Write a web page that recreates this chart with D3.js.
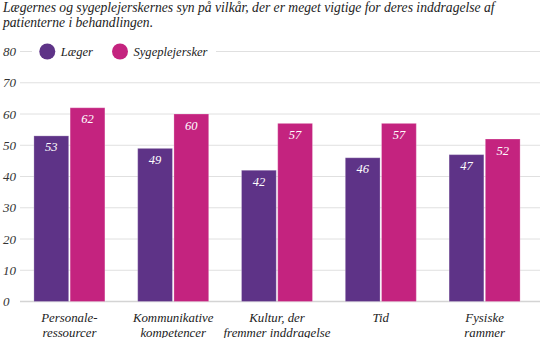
<!DOCTYPE html>
<html><head><meta charset="utf-8">
<script src="https://cdn.jsdelivr.net/npm/d3@7"></script>
<style>body{margin:0;background:#fff;}</style></head>
<body>
<svg id="c" width="540" height="338"></svg>
<script>
const titleLines = ["Lægernes og sygeplejerskernes syn på vilkår, der er meget vigtige for deres inddragelse af", "patienterne i behandlingen."];
const categories = [["Personale-","ressourcer"],["Kommunikative","kompetencer"],["Kultur, der","fremmer inddragelse"],["Tid"],["Fysiske","rammer"]];
const seriesNames = ["Læger","Sygeplejersker"];
const laeger = [53,49,42,46,47];
const sygeplejersker = [62,60,57,57,52];
const yTicks = [0,10,20,30,40,50,60,70,80];
const colors = ["#5e3387","#c4237f"];

const FONT = "'Liberation Serif', 'Times New Roman', serif";
const svg = d3.select("#c");

function fit(str, w){
  const t = svg.append("text").style("font-family",FONT,"important").style("font-style","italic","important").attr("font-size",100).text(str);
  const len = t.node().getComputedTextLength();
  t.remove();
  return 100*w/len;
}
const titleSize = fit(titleLines[0], 492);
const legendSize = fit("Sygeplejersker", 74);
const xlSize = fit("fremmer inddragelse", 107);
const tickSize = fit("80", 13);
const valSize = fit("62", 12.5);

const catKeys = categories.map(c => c.join(" "));
const data = catKeys.map((k,i)=>({key:k, lines:categories[i], values:[laeger[i], sygeplejersker[i]]}));

const y = d3.scaleLinear().domain([0,80]).range([301.5,51.5]);
const x0 = d3.scaleBand().domain(catKeys).range([17.5,536.5]).padding(0);
const bw = x0.bandwidth();
const x1 = d3.scaleBand().domain(seriesNames).range([bw*0.158, bw*0.842]).paddingInner(0.04);

// title
svg.append("g").selectAll("text").data(titleLines).join("text")
  .attr("x",3).attr("y",(d,i)=>11.5+i*15.5)
  .attr("font-size",titleSize).attr("fill","#222").text(d=>d);

// grid
const grid = svg.append("g");
grid.selectAll("line").data(yTicks).join("line")
  .attr("x1",20).attr("x2",540)
  .attr("y1",d=>y(d)).attr("y2",d=>y(d))
  .attr("stroke",d=>d===0?"#d4d4d4":"#e0e0e0").attr("stroke-width",d=>d===0?1.5:1);
grid.selectAll("text").data(yTicks).join("text")
  .attr("x",3).attr("y",d=>y(d)+4.5)
  .attr("font-size",tickSize).attr("fill","#333").text(d=>d);

// bars
const g = svg.append("g").selectAll("g").data(data).join("g")
  .attr("transform",d=>`translate(${x0(d.key)},0)`);
g.selectAll("rect").data(d=>d.values.map((v,i)=>({s:seriesNames[i],v,i}))).join("rect")
  .attr("x",d=>x1(d.s)).attr("width",x1.bandwidth())
  .attr("y",d=>y(d.v)).attr("height",d=>y(0)-y(d.v))
  .attr("fill",d=>colors[d.i]).attr("stroke","rgba(255,255,255,0.25)").attr("stroke-width",1);
g.selectAll("text.v").data(d=>d.values.map((v,i)=>({s:seriesNames[i],v,i}))).join("text")
  .attr("class","v")
  .attr("x",d=>x1(d.s)+x1.bandwidth()/2).attr("y",d=>y(d.v)+15.5)
  .attr("text-anchor","middle").attr("font-size",valSize).attr("fill","#fff").text(d=>d.v);

// x labels
const xl = svg.append("g").selectAll("text").data(data).join("text")
  .attr("x",d=>x0(d.key)+bw/2).attr("text-anchor","middle")
  .attr("font-size",xlSize).attr("fill","#222");
xl.selectAll("tspan").data(d=>d.lines).join("tspan")
  .attr("x",function(){return d3.select(this.parentNode).attr("x");})
  .attr("y",(d,i)=>322+i*14.5).text(d=>d);

// legend
const lg = svg.append("g");
lg.append("rect").attr("x",32).attr("y",y(80)-10).attr("width",184).attr("height",20).attr("fill","#fff");
const legX = [47.3,120];
seriesNames.forEach((s,i)=>{
  lg.append("circle").attr("cx",legX[i]).attr("cy",y(80)).attr("r",8).attr("fill",colors[i]);
  lg.append("text").attr("x",legX[i]+13.5).attr("y",y(80)+4.5).attr("font-size",legendSize).attr("fill","#222").text(s);
});

svg.selectAll("text, tspan").style("font-family",FONT,"important").style("font-style","italic","important");
</script>
</body></html>
